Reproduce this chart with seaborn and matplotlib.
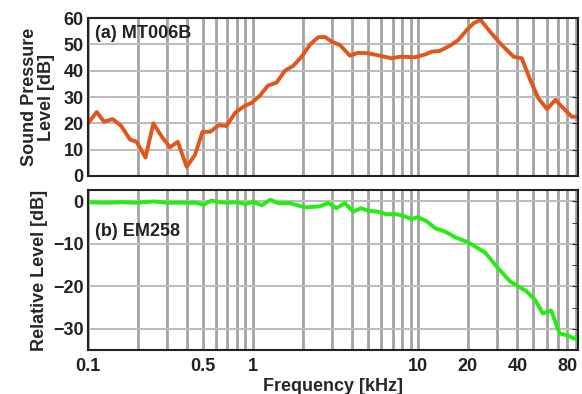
import numpy as np
import pandas as pd
import matplotlib
matplotlib.use("Agg")
import matplotlib.pyplot as plt
import seaborn as sns

# (a) MT006B sound pressure level
freq_a = [0.1, 0.113, 0.125, 0.141, 0.158, 0.18, 0.197, 0.223, 0.249, 0.28,
          0.314, 0.35, 0.396, 0.445, 0.494, 0.55, 0.62, 0.69, 0.78, 0.874,
          0.98, 1.1, 1.23, 1.39, 1.56, 1.75, 1.97, 2.22, 2.48, 2.73,
          3.0, 3.37, 3.86, 4.33, 4.98, 5.87, 6.9, 7.75, 9.56, 11.1,
          12.1, 13.5, 15.6, 17.5, 19.7, 21.7, 23.9, 27.3, 31.4, 37.9,
          42.5, 47.8, 53.6, 60.4, 67.9, 76.0, 85.4, 95.0]
spl_a = [20, 24.3, 20.6, 21.6, 19.2, 13.8, 13, 7, 20, 14.9,
         10.9, 13, 3.5, 8, 16.8, 16.8, 19.3, 19, 24, 26.3,
         27.8, 30.5, 34.3, 35.5, 40, 41.8, 45.3, 50, 52.7, 52.8,
         51, 49.7, 45.7, 46.8, 46.6, 45.7, 44.7, 45.3, 45.1, 46.2,
         47.2, 47.5, 49.5, 51.6, 55.4, 58, 59.3, 54.8, 50.4, 45.3,
         44.7, 36.5, 29.5, 25.4, 28.9, 25.7, 22.5, 22.5]

# (b) EM258 relative level
freq_b = [0.1, 0.13, 0.16, 0.2, 0.25, 0.3, 0.4, 0.45, 0.5, 0.56,
          0.63, 0.7, 0.8, 0.9, 1.0, 1.13, 1.27, 1.42, 1.67, 2.06,
          2.5, 2.86, 3.2, 3.6, 4.05, 4.5, 5.0, 5.7, 6.4, 7.4,
          8.1, 9.1, 10.0, 11.3, 12.7, 14.6, 16.7, 20.0, 25.4, 30.5,
          36.0, 45.5, 51.0, 57.0, 64.0, 72.0, 81.0, 89.0, 97.0]
rel_b = [-0.2, -0.3, -0.2, -0.3, 0.0, -0.3, -0.3, -0.3, -0.8, 0.2,
         -0.2, -0.3, -0.2, -0.6, -0.1, -0.9, 0.4, -0.4, -0.4, -1.4,
         -1.2, -0.4, -1.6, -0.4, -2.4, -1.6, -2.2, -2.4, -3.0, -3.0,
         -3.4, -4.1, -3.7, -4.7, -6.3, -7.1, -8.4, -9.6, -12.0, -15.7,
         -18.8, -21.2, -23.1, -26.4, -25.7, -31.1, -31.6, -32.4, -30.6]

grid_freqs = [m * d for d in (0.1, 1, 10) for m in range(1, 10)]
label_freqs = {0.1: "0.1", 0.5: "0.5", 1: "1", 10: "10", 20: "20", 40: "40", 80: "80"}

sns.set_style("white")
plt.rcParams["font.family"] = ["Liberation Sans", "DejaVu Sans"]
plt.rcParams["font.weight"] = "bold"
plt.rcParams["axes.labelweight"] = "bold"

fig = plt.figure(figsize=(5.82, 3.94), dpi=100)
ax1 = fig.add_axes([0.1512, 0.5533, 0.8418, 0.4010])
ax2 = fig.add_axes([0.1512, 0.1117, 0.8418, 0.4061])

FS = 13


def style_axis(ax, show_labels):
    ax.set_xscale("log")
    ax.set_xlim(0.1, 93)
    ax.set_xticks(grid_freqs, minor=False)
    ax.set_xticks([], minor=True)
    if show_labels:
        ax.set_xticklabels([label_freqs.get(round(f, 3), "") for f in grid_freqs],
                           fontsize=FS, fontweight="bold")
    else:
        ax.set_xticklabels([])
    ax.grid(axis="x", color="#a3a3a3", lw=2.0)
    ax.grid(axis="y", color="#bdbdbd", lw=1.5)
    ax.set_axisbelow(True)
    ax.tick_params(axis="both", which="both", direction="in", length=4,
                   color="#222222", right=True, top=True, labelsize=FS, pad=3)
    ax.tick_params(axis="x", length=0, pad=6)
    for sp in ax.spines.values():
        sp.set_color("#222222")
        sp.set_linewidth(1.5)


sns.lineplot(x=freq_a, y=spl_a, ax=ax1, color="#e2561b", lw=2.8, sort=False)
style_axis(ax1, False)
ax1.set_ylim(0, 60)
ax1.set_yticks(range(0, 61, 10))
ax1.set_ylabel("Sound Pressure\nLevel [dB]", fontsize=FS, fontweight="bold",
               linespacing=1.0, labelpad=6)
ax1.text(0.015, 0.90, "(a) MT006B", transform=ax1.transAxes, fontsize=FS,
         fontweight="bold", va="center", ha="left", color="#222222")

sns.lineplot(x=freq_b, y=rel_b, ax=ax2, color="#22ee11", lw=2.8, sort=False)
style_axis(ax2, True)
ax2.set_ylim(-35, 2.7)
ax2.set_yticks([0, -10, -20, -30])
ax2.set_yticks([-5, -15, -25], minor=True)
ax2.set_ylabel("Relative Level [dB]", fontsize=FS, fontweight="bold", labelpad=4)
ax2.set_xlabel("Frequency [kHz]", fontsize=FS, fontweight="bold", labelpad=2)
ax2.text(0.015, 0.74, "(b) EM258", transform=ax2.transAxes, fontsize=FS,
         fontweight="bold", va="center", ha="left", color="#222222")

for ax in (ax1, ax2):
    for lbl in ax.get_xticklabels() + ax.get_yticklabels():
        lbl.set_fontweight("bold")
        lbl.set_color("#222222")

fig.savefig("out.png", dpi=100)
